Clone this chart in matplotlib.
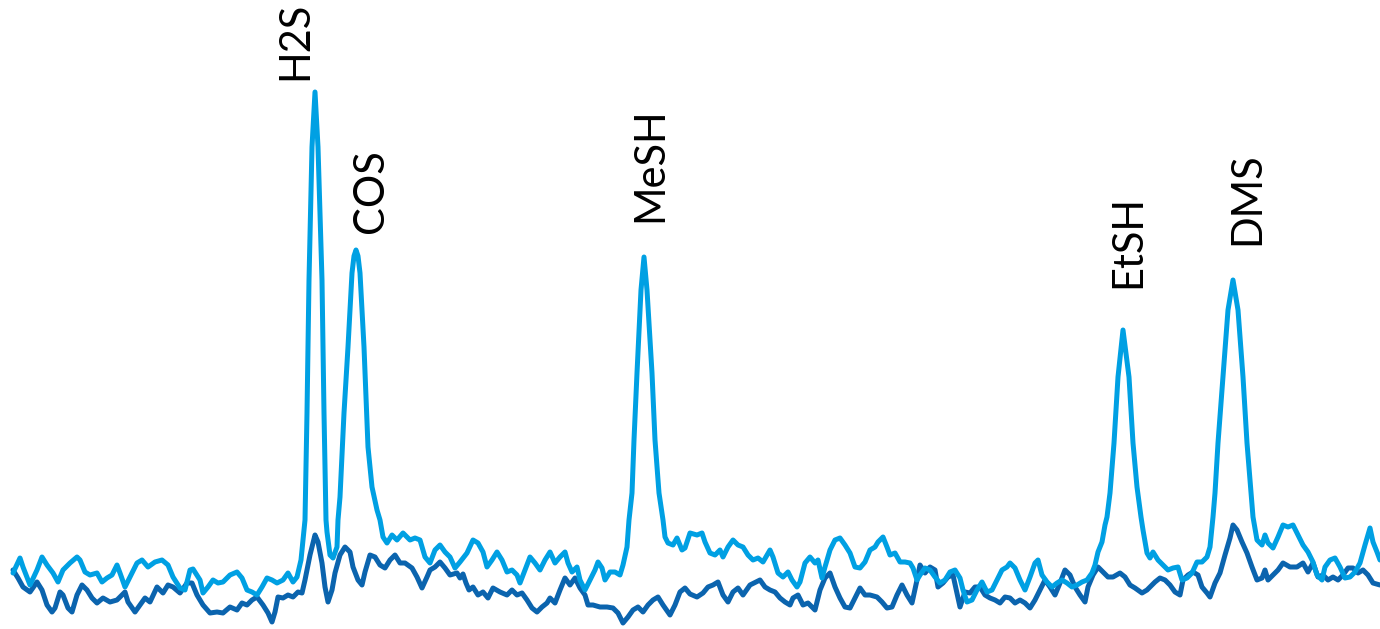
import matplotlib
matplotlib.use("Agg")
import matplotlib.pyplot as plt

# Retention time (arbitrary units) and detector signal for the two runs
rt_sample = [13, 20, 23, 30, 37, 42, 47, 53, 58, 63, 70, 77, 80, 85, 90, 97, 102, 107, 112, 117, 120, 125, 130, 137, 142, 148, 155, 162, 168, 173, 180, 185, 190, 193, 200, 203, 208, 213, 218, 223, 230, 237, 242, 247, 252, 257, 262, 267, 272, 277, 283, 288, 293, 297, 301, 303, 305, 307, 309, 312, 315, 318, 322, 324, 326, 327, 330, 333, 337, 338, 340, 344, 348, 352, 354, 356, 358, 360, 364, 368, 372, 377, 380, 383, 387, 392, 397, 403, 410, 415, 420, 425, 430, 435, 440, 445, 450, 455, 460, 467, 473, 478, 483, 487, 492, 497, 502, 507, 512, 517, 520, 525, 530, 535, 540, 545, 550, 555, 560, 565, 568, 572, 577, 580, 585, 590, 595, 598, 602, 605, 610, 615, 620, 623, 627, 629, 632, 634, 637, 641, 644, 647, 652, 655, 659, 663, 665, 668, 673, 677, 682, 685, 690, 697, 702, 705, 710, 715, 720, 723, 728, 733, 738, 743, 748, 753, 758, 763, 770, 773, 778, 783, 788, 792, 797, 800, 805, 810, 815, 818, 822, 825, 830, 835, 840, 845, 850, 855, 860, 865, 870, 875, 878, 883, 887, 890, 895, 900, 905, 910, 913, 917, 920, 925, 930, 935, 940, 945, 950, 955, 960, 963, 967, 972, 977, 982, 987, 992, 997, 1002, 1007, 1010, 1015, 1020, 1025, 1030, 1035, 1038, 1042, 1047, 1052, 1057, 1062, 1067, 1072, 1077, 1082, 1087, 1092, 1095, 1098, 1102, 1105, 1107, 1110, 1114, 1118, 1123, 1129, 1133, 1137, 1141, 1143, 1147, 1150, 1153, 1158, 1163, 1168, 1173, 1178, 1182, 1187, 1192, 1197, 1202, 1207, 1210, 1213, 1215, 1218, 1223, 1228, 1233, 1238, 1243, 1247, 1251, 1253, 1257, 1262, 1265, 1268, 1273, 1278, 1283, 1288, 1293, 1298, 1303, 1308, 1313, 1317, 1322, 1325, 1330, 1335, 1340, 1345, 1350, 1355, 1360, 1365, 1370, 1373, 1377, 1380]
sig_sample = [56, 71, 62, 44, 59, 72, 64, 56, 47, 59, 66, 72, 69, 57, 54, 56, 47, 51, 54, 64, 56, 42, 52, 66, 69, 62, 67, 69, 64, 52, 41, 39, 59, 60, 49, 36, 42, 49, 46, 47, 54, 57, 51, 39, 37, 34, 42, 51, 49, 46, 49, 56, 47, 52, 69, 89, 109, 216, 349, 482, 537, 482, 349, 216, 109, 97, 74, 71, 82, 109, 132, 216, 282, 356, 373, 379, 373, 356, 282, 182, 142, 119, 109, 92, 86, 94, 89, 96, 89, 91, 89, 72, 66, 79, 84, 77, 72, 61, 67, 76, 89, 86, 77, 62, 69, 77, 69, 57, 59, 54, 46, 59, 72, 66, 59, 69, 77, 66, 72, 77, 66, 57, 62, 49, 39, 49, 59, 67, 61, 49, 57, 57, 54, 64, 82, 109, 136, 189, 256, 339, 372, 339, 256, 189, 136, 109, 92, 86, 84, 91, 79, 81, 96, 94, 96, 87, 76, 74, 79, 72, 82, 89, 84, 82, 74, 69, 71, 67, 79, 72, 56, 52, 57, 49, 42, 47, 66, 72, 66, 69, 51, 62, 79, 89, 91, 84, 76, 62, 61, 67, 79, 82, 87, 92, 82, 74, 76, 67, 67, 66, 61, 49, 54, 61, 59, 52, 46, 49, 57, 59, 51, 39, 27, 29, 39, 47, 37, 39, 49, 59, 62, 66, 61, 49, 39, 52, 66, 69, 54, 47, 42, 46, 49, 46, 42, 44, 47, 49, 56, 64, 77, 87, 104, 112, 136, 186, 252, 299, 252, 186, 142, 112, 99, 76, 71, 77, 69, 64, 59, 61, 62, 49, 51, 56, 67, 67, 72, 82, 112, 136, 186, 252, 319, 349, 319, 252, 186, 136, 112, 89, 84, 94, 86, 81, 92, 104, 102, 104, 94, 84, 77, 67, 54, 49, 62, 69, 71, 62, 51, 52, 57, 66, 84, 101, 87, 77, 69]

rt_blank = [13, 18, 23, 30, 37, 42, 47, 52, 55, 60, 63, 68, 72, 77, 82, 87, 92, 97, 103, 110, 117, 125, 128, 135, 140, 145, 150, 157, 163, 168, 173, 180, 187, 192, 197, 203, 210, 217, 223, 230, 237, 242, 247, 252, 257, 263, 268, 272, 275, 278, 283, 288, 293, 298, 302, 305, 310, 315, 318, 322, 325, 328, 332, 335, 340, 345, 350, 353, 358, 362, 365, 370, 375, 380, 385, 390, 395, 400, 405, 412, 417, 422, 427, 430, 435, 440, 445, 450, 457, 460, 463, 466, 469, 473, 478, 483, 488, 493, 500, 507, 512, 517, 522, 527, 532, 537, 542, 547, 550, 555, 560, 565, 570, 575, 580, 585, 588, 593, 600, 607, 613, 618, 623, 628, 633, 638, 643, 648, 653, 658, 663, 670, 675, 680, 685, 690, 697, 703, 708, 713, 718, 723, 728, 733, 738, 743, 750, 760, 765, 770, 775, 780, 785, 790, 793, 798, 803, 808, 815, 820, 825, 830, 835, 840, 845, 850, 855, 860, 865, 870, 877, 882, 887, 892, 897, 902, 907, 912, 917, 920, 925, 930, 935, 938, 943, 948, 953, 957, 960, 965, 970, 975, 980, 985, 990, 995, 1000, 1005, 1010, 1015, 1020, 1025, 1030, 1035, 1040, 1045, 1050, 1055, 1060, 1065, 1070, 1075, 1080, 1085, 1088, 1093, 1098, 1103, 1108, 1113, 1120, 1125, 1130, 1135, 1142, 1147, 1150, 1155, 1160, 1165, 1170, 1175, 1180, 1183, 1188, 1193, 1198, 1202, 1207, 1210, 1215, 1220, 1225, 1230, 1233, 1237, 1242, 1247, 1252, 1257, 1262, 1265, 1268, 1273, 1278, 1283, 1290, 1297, 1303, 1308, 1313, 1318, 1323, 1328, 1333, 1338, 1343, 1348, 1353, 1358, 1363, 1368, 1373, 1380]
sig_blank = [59, 51, 42, 37, 47, 39, 24, 17, 21, 37, 34, 21, 17, 34, 44, 39, 31, 26, 31, 27, 29, 37, 27, 17, 24, 31, 27, 42, 36, 44, 42, 36, 46, 46, 34, 24, 16, 17, 16, 22, 19, 26, 24, 29, 32, 24, 16, 7, 17, 32, 31, 34, 32, 37, 36, 49, 74, 94, 87, 66, 42, 27, 39, 56, 74, 82, 77, 62, 49, 44, 57, 74, 72, 64, 61, 69, 74, 66, 66, 61, 52, 41, 52, 59, 62, 67, 61, 54, 56, 51, 55, 46, 39, 42, 34, 37, 31, 41, 37, 34, 39, 34, 36, 29, 21, 17, 22, 26, 31, 26, 39, 51, 44, 51, 41, 34, 24, 24, 22, 22, 21, 16, 6, 12, 19, 22, 17, 24, 29, 32, 24, 14, 24, 37, 41, 35, 32, 36, 42, 44, 47, 34, 27, 37, 41, 34, 44, 49, 42, 39, 37, 31, 27, 24, 31, 34, 24, 26, 19, 39, 51, 56, 42, 31, 22, 21, 31, 41, 34, 34, 32, 27, 21, 22, 34, 44, 34, 26, 49, 64, 56, 62, 59, 42, 46, 52, 54, 36, 22, 37, 36, 42, 42, 34, 31, 29, 26, 32, 31, 26, 29, 26, 21, 29, 39, 49, 42, 34, 46, 59, 54, 42, 34, 27, 42, 54, 62, 57, 52, 52, 56, 52, 44, 41, 36, 39, 42, 47, 51, 49, 44, 37, 34, 49, 54, 57, 54, 42, 36, 32, 46, 56, 74, 91, 104, 99, 87, 76, 62, 49, 51, 59, 49, 54, 59, 66, 62, 62, 66, 57, 66, 52, 54, 49, 52, 49, 54, 61, 61, 56, 59, 54, 46, 44]

# Compound names and where each name sits (retention time, signal)
compounds = ["H2S", "COS", "MeSH", "EtSH", "DMS"]
label_rt = [295, 371, 650, 1128, 1247]
label_sig = [549, 396, 407, 341, 384]

fig = plt.figure(figsize=(13.8, 6.29), dpi=100)
ax = fig.add_axes([0, 0, 1, 1])

ax.plot(rt_blank, sig_blank, color="#0B64AE", lw=3.6,
        solid_joinstyle="round", solid_capstyle="round")
ax.plot(rt_sample, sig_sample, color="#00A0E3", lw=3.6,
        solid_joinstyle="round", solid_capstyle="round")

for name, x, y in zip(compounds, label_rt, label_sig):
    ax.text(x, y, name, rotation=90, ha="center", va="bottom",
            fontsize=30, family=["Lato", "DejaVu Sans"], color="black")

ax.set_xlim(0, 1380)
ax.set_ylim(0, 629)
ax.axis("off")

fig.savefig("out.png", dpi=100)
